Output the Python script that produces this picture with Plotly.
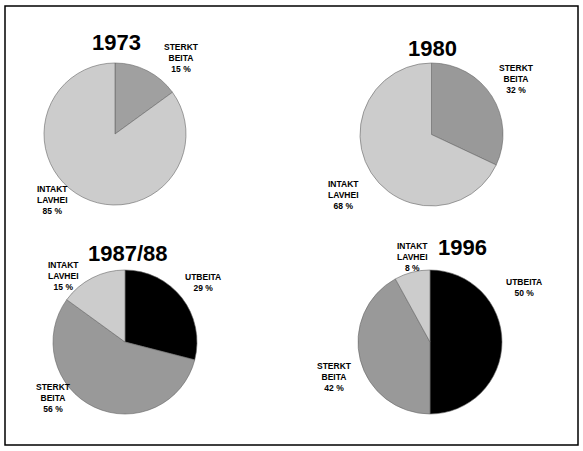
import plotly.graph_objects as go

W, H = 583, 451
years = ["1973", "1980", "1987/88", "1996"]
labels = [["STERKT<br>BEITA", "INTAKT<br>LAVHEI"],
          ["STERKT<br>BEITA", "INTAKT<br>LAVHEI"],
          ["UTBEITA", "STERKT<br>BEITA", "INTAKT<br>LAVHEI"],
          ["UTBEITA", "STERKT<br>BEITA", "INTAKT<br>LAVHEI"]]
values = [[15, 85], [32, 68], [29, 56, 15], [50, 42, 8]]
colors = [["#a0a0a0", "#cccccc"], ["#999999", "#cccccc"],
          ["#000000", "#999999", "#cccccc"], ["#000000", "#999999", "#cccccc"]]

centers = [(115, 134, 71), (431.5, 134.5, 71.5), (125, 342, 72), (430, 342, 72)]
titles_pos = [(116, 42), (432, 48), (128, 253), (462, 247)]
label_pos = [
    [(181, 58), (52, 200)],
    [(516, 79), (343, 195)],
    [(203, 282), (53, 398), (63, 276)],
    [(524, 287), (334, 377), (412, 257)],
]

fig = go.Figure()
ann = []
for i in range(4):
    cx, cy, r = centers[i]
    fig.add_trace(go.Pie(
        values=values[i], labels=labels[i], sort=False, direction="clockwise",
        rotation=0, textinfo="none", hoverinfo="skip", showlegend=False,
        marker=dict(colors=colors[i], line=dict(color="#666666", width=0.6)),
        domain=dict(x=[(cx - r) / W, (cx + r) / W], y=[1 - (cy + r) / H, 1 - (cy - r) / H]),
    ))
    tx, ty = titles_pos[i]
    ann.append(dict(x=tx / W, y=1 - ty / H, xref="paper", yref="paper", text="<b>%s</b>" % years[i],
                    xanchor="center", yanchor="middle",
                    showarrow=False, font=dict(family="Liberation Sans, Arial", size=22, color="black")))
    for j, (lx, ly) in enumerate(label_pos[i]):
        ann.append(dict(x=lx / W, y=1 - ly / H, xref="paper", yref="paper",
                        text="<b>%s<br>%d %%</b>" % (labels[i][j], values[i][j]),
                        xanchor="center", yanchor="middle",
                        showarrow=False, align="center",
                        font=dict(family="Liberation Sans, Arial", size=8.5, color="black")))

fig.update_layout(
    width=W, height=H, margin=dict(l=0, r=0, t=0, b=0),
    paper_bgcolor="white", plot_bgcolor="white", annotations=ann,
    shapes=[dict(type="rect", xref="paper", yref="paper", x0=5 / W, x1=578 / W,
                 y0=1 - 445 / H, y1=1 - 6 / H, line=dict(color="black", width=1.5))],
)
fig.write_html("out.html", config={"displayModeBar": False},
               post_script="document.body.style.margin='0';document.body.style.overflow='hidden';")
